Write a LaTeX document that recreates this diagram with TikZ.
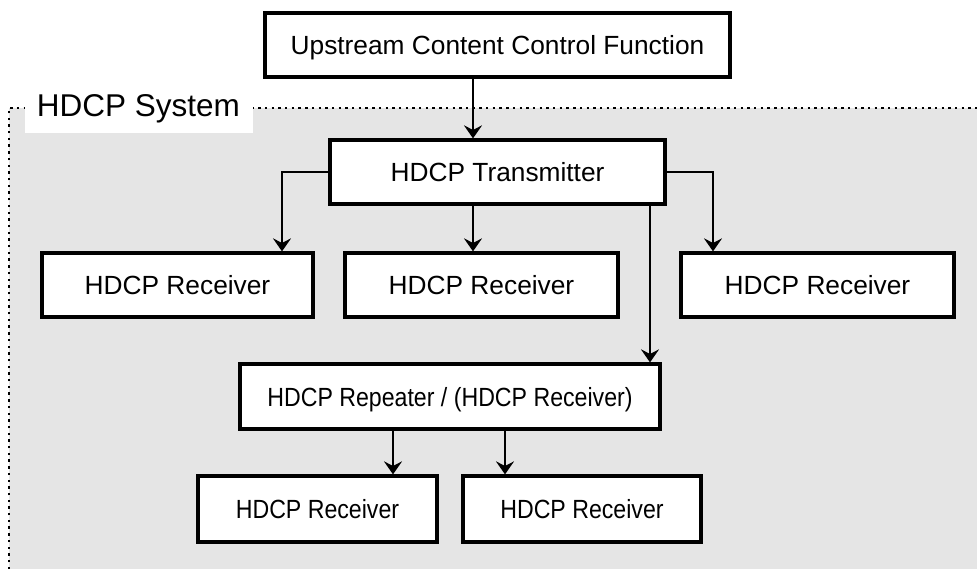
\documentclass[tikz,border=0pt]{standalone}
\usepackage{fontspec}
\setmainfont{Liberation Sans}
\usetikzlibrary{arrows.meta}
\definecolor{sysfill}{gray}{0.9}
\tikzset{
  blk/.style={draw=black, line width=3.2pt, fill=white, inner sep=0pt,
    font=\fontsize{26.3}{30}\selectfont, text height=19pt, text depth=0pt},
  conn/.style={line width=1.6pt, -{Stealth[length=13pt,width=18pt,inset=4.5pt]}},
  sysline/.style={line width=2.5pt, dash pattern=on 2.4pt off 4.3pt},
}
\begin{document}
\begin{tikzpicture}[x=1pt,y=-1pt]
\useasboundingbox (0,0) rectangle (977,569);
% system area
\fill[sysfill] (9,108) rectangle (977,569);
\draw[sysline] (9,569) -- (9,108) -- (977,108);
\node[fill=white, minimum width=228pt, minimum height=38pt, inner sep=0pt] (lblbg) at (139,114) {};
\node[anchor=base, inner sep=0pt, font=\fontsize{31.5}{36}\selectfont] (lbl) at (138.5,117) {HDCP System};
% boxes
\node[blk, minimum width=465pt, minimum height=64pt] (up) at (497.5,45) {Upstream Content Control Function};
\node[blk, minimum width=335pt, minimum height=64pt] (tx) at (497.5,172) {HDCP Transmitter};
\node[blk, minimum width=271pt, minimum height=64pt] (r1) at (177.5,285) {HDCP Receiver};
\node[blk, minimum width=273pt, minimum height=64pt] (r2) at (481.5,285) {HDCP Receiver};
\node[blk, minimum width=273pt, minimum height=64pt] (r3) at (817.5,285) {HDCP Receiver};
\node[blk, minimum width=420pt, minimum height=65pt] (rep) at (450,396.5) {\scalebox{0.88}[1]{HDCP Repeater / (HDCP Receiver)}};
\node[blk, minimum width=239pt, minimum height=66pt] (r4) at (317.5,509) {\scalebox{0.88}[1]{HDCP Receiver}};
\node[blk, minimum width=238pt, minimum height=66pt] (r5) at (582,509) {\scalebox{0.88}[1]{HDCP Receiver}};
% connector columns
\coordinate (cA) at (473,0);
\coordinate (cL) at (282,0);
\coordinate (cR) at (713,0);
\coordinate (cP) at (650,0);
\coordinate (c4) at (393,0);
\coordinate (c5) at (505,0);
% connectors
\draw[conn] (up.south -| cA) -- (tx.north -| cA);
\draw[conn] (tx.west) -| (cL |- r1.north);
\draw[conn] (tx.south -| cA) -- (r2.north -| cA);
\draw[conn] (tx.east) -| (cR |- r3.north);
\draw[conn] (tx.south -| cP) -- (rep.north -| cP);
\draw[conn] (rep.south -| c4) -- (r4.north -| c4);
\draw[conn] (rep.south -| c5) -- (r5.north -| c5);
\end{tikzpicture}
\end{document}
